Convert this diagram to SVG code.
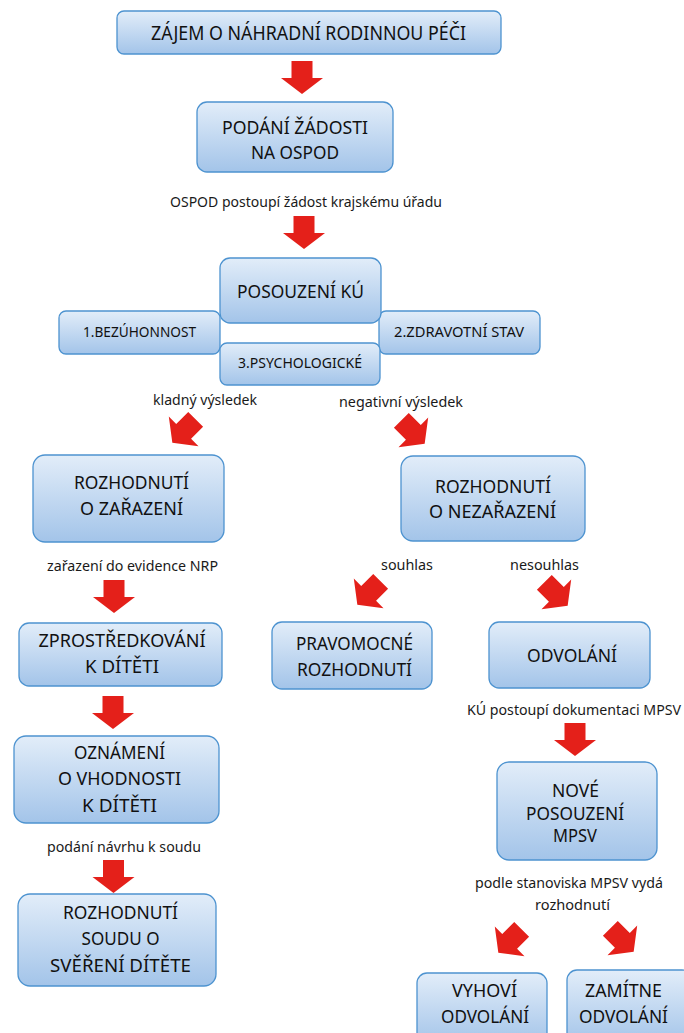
<svg xmlns="http://www.w3.org/2000/svg" xmlns:xlink="http://www.w3.org/1999/xlink" width="684" height="1033" viewBox="0 0 684 1033">
<style>
.box{fill:url(#g);stroke:#4d93d0;stroke-width:1.3}
.b{font-family:"Noto Sans","Liberation Sans",sans-serif;font-size:18px;fill:#111;text-anchor:middle}
.s{font-size:15px}
.l{font-family:"Noto Sans","Liberation Sans",sans-serif;font-size:14px;fill:#1a1a1a;text-anchor:middle}
.arr{fill:#e4201a}
</style>
<defs>
<linearGradient id="g" x1="0" y1="0" x2="0" y2="1">
<stop offset="0" stop-color="#e2edf9"/>
<stop offset="1" stop-color="#a3c4e9"/>
</linearGradient>
<path id="dn" d="M-10.5,0H10.5V17H21L0,33L-21,17H-10.5Z"/>
</defs>
<rect width="684" height="1033" fill="#fff"/>
<g id="connectors" class="arr">
<use xlink:href="#dn" transform="translate(302,61)"/>
<use xlink:href="#dn" transform="translate(304,216)"/>
<use xlink:href="#dn" transform="translate(184,431) rotate(45) translate(0,-16.5)"/>
<use xlink:href="#dn" transform="translate(413,432) rotate(-45) translate(0,-16.5)"/>
<use xlink:href="#dn" transform="translate(114,580)"/>
<use xlink:href="#dn" transform="translate(369,593) rotate(45) translate(0,-16.5)"/>
<use xlink:href="#dn" transform="translate(556,594) rotate(-45) translate(0,-16.5)"/>
<use xlink:href="#dn" transform="translate(113,696)"/>
<use xlink:href="#dn" transform="translate(575,723)"/>
<use xlink:href="#dn" transform="translate(113.5,860)"/>
<use xlink:href="#dn" transform="translate(510,941) rotate(45) translate(0,-16.5)"/>
<use xlink:href="#dn" transform="translate(622,940) rotate(-45) translate(0,-16.5)"/>
</g>
<g id="labels">
<text class="l" x="306" y="207" textLength="272" lengthAdjust="spacingAndGlyphs">OSPOD postoupí žádost krajskému úřadu</text>
<text class="l" x="205" y="405" textLength="104" lengthAdjust="spacingAndGlyphs">kladný výsledek</text>
<text class="l" x="401" y="407" textLength="124" lengthAdjust="spacingAndGlyphs">negativní výsledek</text>
<text class="l" x="132.5" y="571" textLength="171" lengthAdjust="spacingAndGlyphs">zařazení do evidence NRP</text>
<text class="l" x="407" y="570" textLength="52" lengthAdjust="spacingAndGlyphs">souhlas</text>
<text class="l" x="544.5" y="570" textLength="69" lengthAdjust="spacingAndGlyphs">nesouhlas</text>
<text class="l" x="124" y="852" textLength="154" lengthAdjust="spacingAndGlyphs">podání návrhu k soudu</text>
<text class="l" x="574" y="715" textLength="214" lengthAdjust="spacingAndGlyphs">KÚ postoupí dokumentaci MPSV</text>
<text class="l" x="569" y="888" textLength="188" lengthAdjust="spacingAndGlyphs">podle stanoviska MPSV vydá</text>
<text class="l" x="572.5" y="910" textLength="75" lengthAdjust="spacingAndGlyphs">rozhodnutí</text>
</g>
<g id="n_zajem">
<rect class="box" x="117" y="11" width="384" height="43" rx="7"/>
<text class="b" x="308.5" y="40" style="font-size:20px" textLength="315" lengthAdjust="spacingAndGlyphs">ZÁJEM O NÁHRADNÍ RODINNOU PÉČI</text>
</g>
<g id="n_podani">
<rect class="box" x="197" y="102" width="196" height="70" rx="10"/>
<text class="b" x="295" y="134" textLength="146" lengthAdjust="spacingAndGlyphs">PODÁNÍ ŽÁDOSTI</text>
<text class="b" x="295" y="159" textLength="88" lengthAdjust="spacingAndGlyphs">NA OSPOD</text>
</g>
<g id="n_bez">
<rect class="box" x="59" y="311" width="161" height="43" rx="7"/>
<text class="b s" x="139.5" y="337" textLength="113" lengthAdjust="spacingAndGlyphs">1.BEZÚHONNOST</text>
</g>
<g id="n_zdrav">
<rect class="box" x="379" y="311" width="161" height="43" rx="7"/>
<text class="b s" x="459" y="337" textLength="130" lengthAdjust="spacingAndGlyphs">2.ZDRAVOTNÍ STAV</text>
</g>
<g id="n_posouzeni">
<rect class="box" x="220" y="258" width="161" height="65" rx="10"/>
<text class="b" x="300.5" y="298" textLength="127" lengthAdjust="spacingAndGlyphs">POSOUZENÍ KÚ</text>
</g>
<g id="n_psych">
<rect class="box" x="220" y="343" width="160" height="42" rx="7"/>
<text class="b s" x="300" y="368" textLength="124" lengthAdjust="spacingAndGlyphs">3.PSYCHOLOGICKÉ</text>
</g>
<g id="n_zarazeni">
<rect class="box" x="33" y="455" width="191" height="87" rx="12"/>
<text class="b" x="131.5" y="489" textLength="115" lengthAdjust="spacingAndGlyphs">ROZHODNUTÍ</text>
<text class="b" x="131.5" y="515" textLength="103" lengthAdjust="spacingAndGlyphs">O ZAŘAZENÍ</text>
</g>
<g id="n_nezarazeni">
<rect class="box" x="401" y="456" width="184" height="85" rx="12"/>
<text class="b" x="493" y="493" textLength="116" lengthAdjust="spacingAndGlyphs">ROZHODNUTÍ</text>
<text class="b" x="492.5" y="518" textLength="127" lengthAdjust="spacingAndGlyphs">O NEZAŘAZENÍ</text>
</g>
<g id="n_zprostredkovani">
<rect class="box" x="19" y="623" width="203" height="63" rx="10"/>
<text class="b" x="122" y="647" textLength="167" lengthAdjust="spacingAndGlyphs">ZPROSTŘEDKOVÁNÍ</text>
<text class="b" x="122" y="673" textLength="74" lengthAdjust="spacingAndGlyphs">K DÍTĚTI</text>
</g>
<g id="n_pravomocne">
<rect class="box" x="272" y="622" width="160" height="67" rx="10"/>
<text class="b" x="354.5" y="650" textLength="117" lengthAdjust="spacingAndGlyphs">PRAVOMOCNÉ</text>
<text class="b" x="354.5" y="676" textLength="115" lengthAdjust="spacingAndGlyphs">ROZHODNUTÍ</text>
</g>
<g id="n_odvolani">
<rect class="box" x="489" y="622" width="161" height="66" rx="10"/>
<text class="b" x="572" y="662" textLength="90" lengthAdjust="spacingAndGlyphs">ODVOLÁNÍ</text>
</g>
<g id="n_oznameni">
<rect class="box" x="14" y="736" width="205" height="87" rx="12"/>
<text class="b" x="119.5" y="759" textLength="91" lengthAdjust="spacingAndGlyphs">OZNÁMENÍ</text>
<text class="b" x="119.5" y="785" textLength="123" lengthAdjust="spacingAndGlyphs">O VHODNOSTI</text>
<text class="b" x="119.5" y="812" textLength="75" lengthAdjust="spacingAndGlyphs">K DÍTĚTI</text>
</g>
<g id="n_nove">
<rect class="box" x="497" y="762" width="160" height="98" rx="12"/>
<text class="b" x="575.5" y="797" textLength="47" lengthAdjust="spacingAndGlyphs">NOVÉ</text>
<text class="b" x="575" y="820" textLength="98" lengthAdjust="spacingAndGlyphs">POSOUZENÍ</text>
<text class="b" x="575" y="842" textLength="44" lengthAdjust="spacingAndGlyphs">MPSV</text>
</g>
<g id="n_soud">
<rect class="box" x="18" y="894" width="198" height="92" rx="12"/>
<text class="b" x="120.5" y="919" textLength="115" lengthAdjust="spacingAndGlyphs">ROZHODNUTÍ</text>
<text class="b" x="120.5" y="945" textLength="78" lengthAdjust="spacingAndGlyphs">SOUDU O</text>
<text class="b" x="120.5" y="972" textLength="141" lengthAdjust="spacingAndGlyphs">SVĚŘENÍ DÍTĚTE</text>
</g>
<g id="n_vyhovi">
<rect class="box" x="417" y="973" width="130" height="72" rx="10"/>
<text class="b" x="484.5" y="997" textLength="65" lengthAdjust="spacingAndGlyphs">VYHOVÍ</text>
<text class="b" x="485" y="1023" textLength="88" lengthAdjust="spacingAndGlyphs">ODVOLÁNÍ</text>
</g>
<g id="n_zamitne">
<rect class="box" x="567" y="970" width="125" height="75" rx="10"/>
<text class="b" x="623.5" y="997" textLength="77" lengthAdjust="spacingAndGlyphs">ZAMÍTNE</text>
<text class="b" x="623.5" y="1023" textLength="89" lengthAdjust="spacingAndGlyphs">ODVOLÁNÍ</text>
</g>
</svg>
